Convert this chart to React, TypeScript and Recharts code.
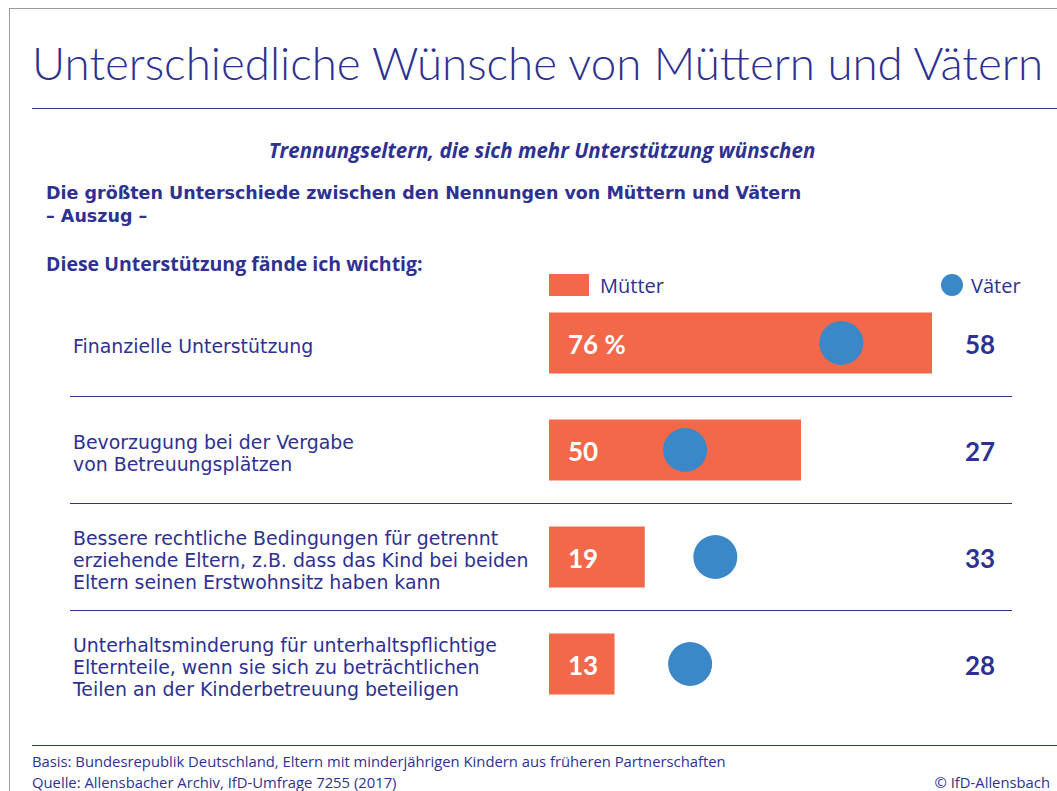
import { Bar, ComposedChart, LabelList, Line, XAxis, YAxis } from 'recharts'

const BLUE_TEXT = '#2e3192'
const ORANGE = '#f26849'
const DOT_BLUE = '#3a88c8'
const FONT = 'Lato, "Open Sans", sans-serif'
const WIDE = '"Open Sans", Lato, sans-serif'
const DEJAVU = '"DejaVu Sans", "Open Sans", sans-serif'

const categories = ['finanziell', 'betreuung', 'rechtlich', 'unterhalt']
const categoryLines = [
  ['Finanzielle Unterstützung'],
  ['Bevorzugung bei der Vergabe', 'von Betreuungsplätzen'],
  [
    'Bessere rechtliche Bedingungen für getrennt',
    'erziehende Eltern, z.B. dass das Kind bei beiden',
    'Eltern seinen Erstwohnsitz haben kann',
  ],
  [
    'Unterhaltsminderung für unterhaltspflichtige',
    'Elternteile, wenn sie sich zu beträchtlichen',
    'Teilen an der Kinderbetreuung beteiligen',
  ],
]
const muetter = [76, 50, 19, 13]
const vaeter = [58, 27, 33, 28]
const muetterLabels = ['76 %', '50', '19', '13']

const data = categories.map((cat, i) => ({
  cat,
  muetter: muetter[i],
  vaeter: vaeter[i],
  label: muetterLabels[i],
}))

const W = 1057
const H = 791
const ROW_H = 107
const PLOT_TOP = 289.5

function CategoryTick(props: any) {
  const { y, index } = props
  const lines: string[] = categoryLines[index] ?? []
  const offset = ((lines.length - 1) / 2) * 22
  return (
    <g>
      {index > 0 && (
        <line x1={70} x2={1012} y1={y - ROW_H / 2} y2={y - ROW_H / 2} stroke={BLUE_TEXT} strokeWidth={1} />
      )}
      <text
        x={73}
        y={y - offset + 4}
        fill={BLUE_TEXT}
        fontFamily={DEJAVU}
        fontSize={18.9}
        dominantBaseline="middle"
        textAnchor="start"
      >
        {lines.map((l, i) => (
          <tspan key={i} x={73} dy={i === 0 ? 0 : 22}>
            {l}
          </tspan>
        ))}
      </text>
    </g>
  )
}

function BarLabel(props: any) {
  const { x, y, height, index } = props
  return (
    <text
      x={x + 19}
      y={y + height / 2 + 4}
      fill="#ffffff"
      fontFamily={FONT}
      fontWeight={700}
      fontSize={26}
      dominantBaseline="middle"
    >
      {muetterLabels[index]}
    </text>
  )
}

function VaeterLabel(props: any) {
  const { y, value } = props
  return (
    <text
      x={980}
      y={y + 4}
      fill={BLUE_TEXT}
      fontFamily={FONT}
      fontWeight={700}
      fontSize={26}
      textAnchor="middle"
      dominantBaseline="middle"
    >
      {value}
    </text>
  )
}

export default function App() {
  return (
    <div style={{ position: 'absolute', left: 0, top: 0, width: W, height: H, background: '#fff', overflow: 'hidden' }}>
      <div
        style={{
          position: 'absolute',
          left: 9,
          top: 8,
          width: W,
          height: H,
          borderTop: '1px solid #9a9a9a',
          borderLeft: '1px solid #9a9a9a',
        }}
      />
      <svg width={W} height={H} style={{ position: 'absolute', left: 0, top: 0 }}>
        <text
          x={32}
          y={80}
          fill={BLUE_TEXT}
          fontFamily={FONT}
          fontWeight={300}
          fontSize={46}
          textLength={1011}
          lengthAdjust="spacingAndGlyphs"
        >
          Unterschiedliche Wünsche von Müttern und Vätern
        </text>
        <line x1={32} x2={W} y1={108.5} y2={108.5} stroke={BLUE_TEXT} strokeWidth={1} />
        <text
          x={542}
          y={158}
          fill={BLUE_TEXT}
          fontFamily={WIDE}
          fontWeight={700}
          fontStyle="italic"
          fontSize={20.5}
          textAnchor="middle"
        >
          Trennungseltern, die sich mehr Unterstützung wünschen
        </text>
        <text x={46} y={199} fill={BLUE_TEXT} fontFamily={DEJAVU} fontWeight={700} fontSize={17.5}>
          Die größten Unterschiede zwischen den Nennungen von Müttern und Vätern
        </text>
        <text x={46} y={222} fill={BLUE_TEXT} fontFamily={DEJAVU} fontWeight={700} fontSize={17.5}>
          – Auszug –
        </text>
        <text x={46} y={271} fill={BLUE_TEXT} fontFamily={WIDE} fontWeight={700} fontSize={19.5}>
          Diese Unterstützung fände ich wichtig:
        </text>
        <rect x={549} y={274} width={40} height={22} fill={ORANGE} />
        <text x={600} y={293} fill={BLUE_TEXT} fontFamily={WIDE} fontSize={20}>
          Mütter
        </text>
        <circle cx={952} cy={285} r={11} fill={DOT_BLUE} />
        <text x={971} y={293} fill={BLUE_TEXT} fontFamily={WIDE} fontSize={20}>
          Väter
        </text>
        <line x1={32} x2={W} y1={745.5} y2={745.5} stroke={BLUE_TEXT} strokeWidth={1} />
        <text x={32} y={767} fill={BLUE_TEXT} fontFamily={WIDE} fontSize={14.8}>
          Basis: Bundesrepublik Deutschland, Eltern mit minderjährigen Kindern aus früheren Partnerschaften
        </text>
        <text x={32} y={788} fill={BLUE_TEXT} fontFamily={WIDE} fontSize={14.8}>
          Quelle: Allensbacher Archiv, IfD-Umfrage 7255 (2017)
        </text>
        <text x={1050} y={788} fill={BLUE_TEXT} fontFamily={WIDE} fontSize={14.8} textAnchor="end">
          © IfD-Allensbach
        </text>
      </svg>
      <div style={{ position: 'absolute', left: 0, top: 0 }}>
        <ComposedChart
          width={W}
          height={H}
          data={data}
          layout="vertical"
          margin={{ top: PLOT_TOP, bottom: H - PLOT_TOP - ROW_H * 4, left: 69, right: 4 }}
        >
          <XAxis type="number" domain={[0, 100]} hide />
          <YAxis
            type="category"
            dataKey="cat"
            width={480}
            axisLine={false}
            tickLine={false}
            tick={<CategoryTick />}
            interval={0}
          />
          <Bar dataKey="muetter" fill={ORANGE} barSize={61} isAnimationActive={false}>
            <LabelList dataKey="label" content={<BarLabel />} />
          </Bar>
          <Line
            dataKey="vaeter"
            stroke="none"
            strokeWidth={0}
            dot={{ r: 22, fill: DOT_BLUE, stroke: 'none', strokeWidth: 0 }}
            activeDot={false}
            isAnimationActive={false}
          >
            <LabelList dataKey="vaeter" content={<VaeterLabel />} />
          </Line>
        </ComposedChart>
      </div>
    </div>
  )
}
